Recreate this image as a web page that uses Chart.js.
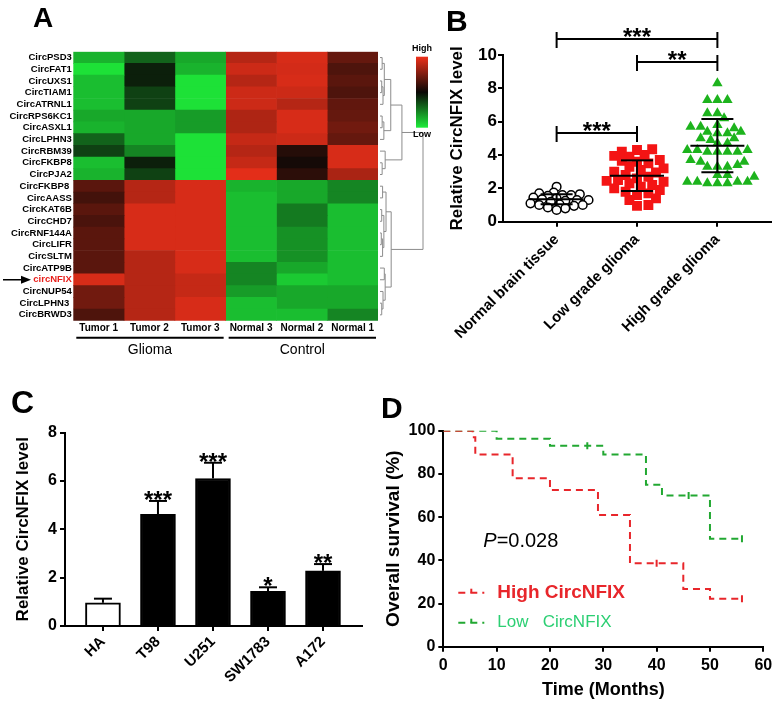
<!DOCTYPE html>
<html>
<head>
<meta charset="utf-8">
<script src="https://cdn.jsdelivr.net/npm/chart.js@4.4.1/dist/chart.umd.min.js"></script>
<style>
  html, body { margin: 0; padding: 0; background: #fff; }
  #page { position: relative; width: 778px; height: 702px; overflow: hidden; font-family: 'Liberation Sans', Arial, sans-serif; }
  canvas { position: absolute; }
  .tag { position: absolute; font-weight: bold; line-height: 1; color: #000; }
</style>
</head>
<body>
<div id="page">
  <canvas id="heatChart" width="445" height="360" style="left:0px;top:0px"></canvas>
  <canvas id="groupChart" width="388" height="360" style="left:390px;top:0px"></canvas>
  <canvas id="cellChart" width="390" height="342" style="left:0px;top:360px"></canvas>
  <canvas id="survChart" width="398" height="342" style="left:380px;top:360px"></canvas>
  <div class="tag" style="left:33px;top:4px;font-size:28px">A</div>
  <div class="tag" style="left:446px;top:6px;font-size:30px">B</div>
  <div class="tag" style="left:11px;top:386px;font-size:32px">C</div>
  <div class="tag" style="left:381px;top:393px;font-size:30px">D</div>
</div>
<script>
const FONT = "'Liberation Sans', Arial, sans-serif";
Chart.defaults.font.family = FONT;
Chart.defaults.color = '#000';

// ---- A: heatmap ----
const heatRows = ['CircPSD3', 'CircFAT1', 'CircUXS1', 'CircTIAM1', 'CircATRNL1', 'CircRPS6KC1', 'CircASXL1',
  'CircLPHN3', 'CircRBM39', 'CircFKBP8', 'CircPJA2', 'CircFKBP8 ', 'CircAASS', 'CircKAT6B', 'CircCHD7',
  'CircRNF144A', 'CircLIFR', 'CircSLTM', 'CircATP9B', 'circNFIX', 'CircNUP54', 'CircLPHN3 ', 'CircBRWD3'];
const heatCols = ['Tumor 1', 'Tumor 2', 'Tumor 3', 'Normal 3', 'Normal 2', 'Normal 1'];
// -1 = low (green), 0 = black, 1 = high (red)
const tumor1 = [-0.75, -0.95, -0.8, -0.8, -0.8, -0.7, -0.75, -0.4, -0.25, -0.8, -0.75, 0.35, 0.25, 0.35, 0.28, 0.35, 0.35, 0.35, 0.35, 0.9, 0.45, 0.45, 0.3];
const tumor2 = [-0.4, -0.1, -0.1, -0.25, -0.25, -0.7, -0.7, -0.7, -0.55, -0.1, -0.25, 0.75, 0.75, 0.9, 0.9, 0.9, 0.9, 0.75, 0.75, 0.75, 0.75, 0.75, 0.75];
const tumor3 = [-0.7, -0.75, -0.95, -0.95, -0.95, -0.65, -0.65, -0.95, -0.95, -0.95, -0.95, 0.9, 0.9, 0.9, 0.9, 0.9, 0.9, 0.9, 0.9, 0.82, 0.82, 0.9, 0.9];
const normal3 = [0.75, 0.85, 0.75, 0.85, 0.85, 0.72, 0.72, 0.82, 0.75, 0.82, 0.95, -0.75, -0.8, -0.8, -0.8, -0.8, -0.8, -0.8, -0.55, -0.55, -0.65, -0.8, -0.8];
const normal2 = [0.9, 0.88, 0.9, 0.85, 0.75, 0.9, 0.9, 0.85, 0.12, 0.05, 0.15, -0.7, -0.7, -0.5, -0.5, -0.6, -0.6, -0.6, -0.7, -0.85, -0.7, -0.7, -0.8];
const normal1 = [0.4, 0.3, 0.35, 0.3, 0.38, 0.4, 0.45, 0.4, 0.9, 0.9, 0.7, -0.55, -0.55, -0.8, -0.8, -0.8, -0.8, -0.8, -0.8, -0.8, -0.7, -0.7, -0.55];
const heatColumns = [tumor1, tumor2, tumor3, normal3, normal2, normal1];
const groupLabels = ['Glioma', 'Control'];
const groupSpans = [[0, 3], [3, 6]];
const markedRow = 19;
// [child, child, height]; leaves are row indexes
const dendroTree = [
  [[[[0, 1, 0.05], [[2, 3, 0.04], 4, 0.07], 0.1], [[5, 6, 0.05], 7, 0.09], 0.25], [8, [9, 10, 0.05], 0.12], 0.51],
  [[[11, 12, 0.06], [[13, 14, 0.04], [[15, 16, 0.03], 17, 0.06], 0.09], 0.14], [[18, 19, 0.1], [20, [21, 22, 0.04], 0.07], 0.12], 0.26],
  1
];

// ---- B: groups ----
const groupNames = ['Normal brain tissue', 'Low grade glioma', 'High grade glioma'];
const normalTissue = [2.1, 1.75, 1.7, 1.65, 1.6, 1.6, 1.55, 1.45, 1.4, 1.35, 1.3, 1.3, 1.25, 1.2, 1.1, 1.05, 1.0, 1.0, 0.95, 0.85, 0.8, 0.7];
const lowGrade = [4.35, 4.3, 4.2, 4.0, 3.95, 3.9, 3.7, 3.65, 3.6, 3.5, 3.3, 3.2, 3.1, 3.0, 2.95, 2.8, 2.7, 2.6, 2.5, 2.45, 2.4, 2.3, 2.2, 2.1, 2.0, 1.9, 1.8, 1.7, 1.6, 1.4, 1.3, 1.0, 0.95];
const highGrade = [8.3, 7.3, 7.3, 7.3, 6.5, 6.5, 6.2, 5.8, 5.7, 5.7, 5.6, 5.4, 5.4, 5.3, 5.3, 5.0, 5.0, 4.9, 4.7, 4.7,
  4.3, 4.3, 4.2, 4.2, 4.2, 4.2, 4.3, 3.7, 3.6, 3.6, 3.4, 3.3, 3.3, 3.3, 2.8, 2.8, 2.7, 2.4, 2.4, 2.3, 2.3, 2.3, 2.4, 2.4];
const groupMean = [1.35, 2.76, 4.56];
const groupSD = [0.3, 0.92, 1.6];
const sigPairs = [[0, 2], [1, 2], [0, 1]];
const sigLevel = [10.96, 9.58, 5.32];
const sigStars = ['***', '**', '***'];

// ---- C: cell lines ----
const cellLines = ['HA', 'T98', 'U251', 'SW1783', 'A172'];
const cellLevel = [0.96, 4.62, 6.1, 1.43, 2.28];
const cellErr = [0.17, 0.55, 0.65, 0.17, 0.28];
const cellStars = ['', '***', '***', '*', '**'];

// ---- D: survival ----
const survGroups = ['High CircNFIX', 'Low   CircNFIX'];
const highTime = [0, 5.5, 6, 13, 20, 29, 35, 45, 50, 56];
const highSurv = [100, 97, 89, 78, 72.5, 61, 38.6, 26.7, 22.2, 22.2];
const lowTime = [0, 10, 20, 30, 38, 41, 50, 56];
const lowSurv = [100, 96.3, 93, 89, 75, 70, 50, 50];
const highCensorTime = [40, 56];
const highCensorSurv = [38.6, 22.2];
const lowCensorTime = [27, 46, 56];
const lowCensorSurv = [93, 70, 50];
const pValue = '0.028';

const RED = '#e8262b', GREEN = '#22a832';

function heatColor(v) {
  const lo = [10, 8, 6];
  const hi = v >= 0 ? [238, 48, 26] : [30, 236, 58];
  const a = Math.abs(v);
  const c = lo.map((l, k) => Math.round(l + (hi[k] - l) * a));
  return `rgb(${c[0]},${c[1]},${c[2]})`;
}

// simple beeswarm: offsets in x units so markers do not pile up
function swarm(values, size, pxX, pxY) {
  const placed = [];
  const off = values.map(() => 0);
  const order = values.map((v, i) => i).sort((a, b) => values[a] - values[b]);
  order.forEach(i => {
    const py = values[i] * pxY;
    for (let k = 0; k < 60; k++) {
      const cand = (k % 2 ? 1 : -1) * Math.ceil(k / 2) * size * 0.45;
      if (placed.every(p => (p.x - cand) ** 2 + (p.y - py) ** 2 >= size * size)) {
        placed.push({ x: cand, y: py });
        off[i] = cand / pxX;
        break;
      }
    }
  });
  return off;
}

function axisStyle(size) {
  return {
    grid: { display: true, drawOnChartArea: false, tickLength: 5, color: '#000', lineWidth: 2 },
    border: { display: true, color: '#000', width: 2 },
    ticks: { color: '#000', font: { size: size, weight: 'bold' } }
  };
}

function line(ctx, x1, y1, x2, y2) {
  ctx.beginPath(); ctx.moveTo(x1, y1); ctx.lineTo(x2, y2); ctx.stroke();
}

// ===== Panel A =====
const heatExtras = {
  id: 'heatExtras',
  afterDraw(chart) {
    const { ctx, chartArea: area, scales: { x, y } } = chart;
    ctx.save();
    // dendrogram
    ctx.strokeStyle = '#8c8c8c';
    ctx.lineWidth = 1;
    const dx0 = area.right + 2, dw = 43;
    const walk = node => {
      if (typeof node === 'number') return { pos: y.getPixelForValue(node), h: 0 };
      const a = walk(node[0]), b = walk(node[1]);
      const hx = dx0 + node[2] * dw;
      ctx.beginPath();
      ctx.moveTo(dx0 + a.h * dw, a.pos);
      ctx.lineTo(hx, a.pos);
      ctx.lineTo(hx, b.pos);
      ctx.lineTo(dx0 + b.h * dw, b.pos);
      ctx.stroke();
      return { pos: (a.pos + b.pos) / 2, h: node[2] };
    };
    walk(dendroTree);

    // colour key
    const kx = area.right + 38, ky1 = area.top + 5, ky2 = area.top + 76;
    const g = ctx.createLinearGradient(0, ky1, 0, ky2);
    g.addColorStop(0, heatColor(1));
    g.addColorStop(0.5, heatColor(0));
    g.addColorStop(1, heatColor(-1));
    ctx.fillStyle = g;
    ctx.fillRect(kx, ky1, 12, ky2 - ky1);
    ctx.fillStyle = '#000';
    ctx.font = 'bold 9px ' + FONT;
    ctx.textAlign = 'center';
    ctx.textBaseline = 'middle';
    ctx.fillText('High', kx + 6, area.top - 3);
    ctx.fillText('Low', kx + 6, ky2 + 7);

    // group underlines
    ctx.strokeStyle = '#000';
    ctx.lineWidth = 2;
    ctx.font = '14px ' + FONT;
    groupSpans.forEach((s, i) => {
      const x1 = x.getPixelForValue(s[0]) + 3, x2 = x.getPixelForValue(s[1]) - 2;
      line(ctx, x1, area.bottom + 17, x2, area.bottom + 17);
      ctx.fillText(groupLabels[i], (x1 + x2) / 2, area.bottom + 29);
    });

    // arrow to the marked row
    const ay = y.getPixelForValue(markedRow);
    ctx.lineWidth = 1.5;
    line(ctx, 3, ay, 23, ay);
    ctx.beginPath();
    ctx.moveTo(31, ay); ctx.lineTo(21, ay - 4); ctx.lineTo(21, ay + 4); ctx.closePath();
    ctx.fill();
    ctx.restore();
  }
};

new Chart(document.getElementById('heatChart'), {
  type: 'bar',
  data: {
    labels: heatRows,
    datasets: heatColumns.map((col, i) => ({
      label: heatCols[i],
      data: col.map(() => 1),
      backgroundColor: col.map(heatColor),
      borderWidth: 0,
      barPercentage: 1,
      categoryPercentage: 1
    }))
  },
  options: {
    indexAxis: 'y',
    responsive: false,
    animation: false,
    layout: { padding: { top: 51.7, right: 67, left: 0, bottom: 0 } },
    plugins: { legend: { display: false }, tooltip: { enabled: false } },
    scales: {
      x: {
        type: 'linear', stacked: true, min: 0, max: 6,
        grid: { display: false, drawTicks: false },
        border: { display: false },
        afterBuildTicks: s => { s.ticks = heatCols.map((c, i) => ({ value: i + 0.5 })); },
        ticks: { callback: v => heatCols[Math.floor(v)], autoSkip: false, maxRotation: 0, padding: 2,
          font: { size: 10, weight: 'bold' }, color: '#000' },
        afterFit: s => { s.height = 360 - 320.7; }
      },
      y: {
        stacked: true,
        grid: { display: false, drawTicks: false },
        border: { display: false },
        ticks: { autoSkip: false, padding: 1.5,
          font: { size: 9.5, weight: 'bold' },
          color: c => (c.index === markedRow ? '#e8201c' : '#000') },
        afterFit: s => { s.width = 73.3; }
      }
    }
  },
  plugins: [heatExtras]
});

// ===== Panel B =====
const offN = swarm(normalTissue, 6.5, 81, 16.67);
const offL = swarm(lowGrade, 8.5, 81, 16.67);
const offH = swarm(highGrade, 7.5, 81, 16.67);

const groupExtras = {
  id: 'groupExtras',
  afterDatasetsDraw(chart) {
    const { ctx, scales: { x, y } } = chart;
    ctx.save();
    ctx.strokeStyle = '#000';
    ctx.fillStyle = '#000';
    ctx.lineWidth = 2;
    groupMean.forEach((m, i) => {
      const cx = x.getPixelForValue(i);
      const ym = y.getPixelForValue(m);
      const yt = y.getPixelForValue(m + groupSD[i]);
      const yb = y.getPixelForValue(m - groupSD[i]);
      line(ctx, cx - 27, ym, cx + 27, ym);
      line(ctx, cx, yt, cx, yb);
      line(ctx, cx - 16, yt, cx + 16, yt);
      line(ctx, cx - 16, yb, cx + 16, yb);
    });
    ctx.font = 'bold 24px ' + FONT;
    ctx.textAlign = 'center';
    ctx.textBaseline = 'alphabetic';
    sigPairs.forEach((p, i) => {
      const x1 = x.getPixelForValue(p[0]), x2 = x.getPixelForValue(p[1]);
      const yy = y.getPixelForValue(sigLevel[i]);
      line(ctx, x1, yy, x2, yy);
      line(ctx, x1, yy - 7, x1, yy + 9);
      line(ctx, x2, yy - 7, x2, yy + 9);
      ctx.fillText(sigStars[i], (x1 + x2) / 2, yy + 6);
    });
    ctx.restore();
  }
};

const bAxis = axisStyle(17);
const bxAxis = axisStyle(15);
new Chart(document.getElementById('groupChart'), {
  type: 'scatter',
  data: {
    datasets: [
      { label: groupNames[0], data: normalTissue.map((v, i) => ({ x: offN[i], y: v })),
        pointStyle: 'circle', pointRadius: 4.3, backgroundColor: '#fff', borderColor: '#000', borderWidth: 1.5 },
      { label: groupNames[1], data: lowGrade.map((v, i) => ({ x: 1 + offL[i], y: v })),
        pointStyle: 'rect', pointRadius: 7, backgroundColor: '#f41414', borderWidth: 0 },
      { label: groupNames[2], data: highGrade.map((v, i) => ({ x: 2 + offH[i], y: v })),
        pointStyle: 'triangle', pointRadius: 6, backgroundColor: '#1db31d', borderWidth: 0 }
    ]
  },
  options: {
    responsive: false,
    animation: false,
    layout: { padding: { top: 55, right: 5, left: 0, bottom: 0 } },
    plugins: { legend: { display: false }, tooltip: { enabled: false } },
    scales: {
      x: {
        type: 'linear', min: -0.667, max: 2.667,
        grid: bxAxis.grid, border: bxAxis.border,
        afterBuildTicks: s => { s.ticks = groupNames.map((n, i) => ({ value: i })); },
        ticks: { ...bxAxis.ticks, callback: v => groupNames[v], autoSkip: false, minRotation: 45, maxRotation: 45, padding: 4 },
        afterFit: s => { s.height = 360 - 221.7; }
      },
      y: {
        min: 0, max: 10,
        grid: bAxis.grid, border: bAxis.border,
        ticks: { ...bAxis.ticks, stepSize: 2, padding: 1 },
        title: { display: true, text: 'Relative CircNFIX level', font: { size: 17, weight: 'bold' }, padding: { top: 56.8, bottom: 0 } },
        afterFit: s => { s.width = 113; }
      }
    }
  },
  plugins: [groupExtras]
});

// ===== Panel C =====
const cellExtras = {
  id: 'cellExtras',
  afterDatasetsDraw(chart) {
    const { ctx, scales: { y } } = chart;
    const meta = chart.getDatasetMeta(0);
    ctx.save();
    ctx.strokeStyle = '#000';
    ctx.fillStyle = '#000';
    ctx.lineWidth = 2;
    ctx.font = 'bold 24px ' + FONT;
    ctx.textAlign = 'center';
    ctx.textBaseline = 'alphabetic';
    meta.data.forEach((bar, i) => {
      const top = y.getPixelForValue(cellLevel[i] + cellErr[i]);
      line(ctx, bar.x, bar.y, bar.x, top);
      line(ctx, bar.x - 9, top, bar.x + 9, top);
      if (cellStars[i]) ctx.fillText(cellStars[i], bar.x, top + 7);
    });
    ctx.restore();
  }
};

const cAxis = axisStyle(16);
const cxAxis = axisStyle(15);
new Chart(document.getElementById('cellChart'), {
  type: 'bar',
  data: {
    datasets: [{
      data: cellLevel.map((v, i) => ({ x: i, y: v })),
      backgroundColor: cellLines.map((n, i) => (i === 0 ? '#fff' : '#000')),
      borderColor: '#000',
      borderWidth: 2,
      barThickness: 35
    }]
  },
  options: {
    responsive: false,
    animation: false,
    layout: { padding: { top: 72.5, right: 28, left: 0, bottom: 0 } },
    plugins: { legend: { display: false }, tooltip: { enabled: false } },
    scales: {
      x: {
        type: 'linear', min: -0.69, max: 4.709, offset: false,
        grid: { ...cxAxis.grid, offset: false }, border: cxAxis.border,
        afterBuildTicks: s => { s.ticks = cellLines.map((n, i) => ({ value: i })); },
        ticks: { ...cxAxis.ticks, callback: v => cellLines[v], autoSkip: false, minRotation: 45, maxRotation: 45, padding: 2 },
        afterFit: s => { s.height = 342 - 266; }
      },
      y: {
        min: 0, max: 8,
        grid: cAxis.grid, border: cAxis.border,
        ticks: { ...cAxis.ticks, stepSize: 2, padding: 3 },
        title: { display: true, text: 'Relative CircNFIX level', font: { size: 17, weight: 'bold' }, padding: { top: 13.3, bottom: 0 } },
        afterFit: s => { s.width = 65; }
      }
    }
  },
  plugins: [cellExtras]
});

// ===== Panel D =====
const survExtras = {
  id: 'survExtras',
  afterDraw(chart) {
    const { ctx, chartArea: a } = chart;
    ctx.save();
    const rows = [
      { text: survGroups[0], color: RED, font: 'bold 19px ' + FONT, dy: 162 },
      { text: survGroups[1], color: '#2ccf73', font: '17px ' + FONT, dy: 192 }
    ];
    rows.forEach((r, i) => {
      const yy = a.top + r.dy;
      ctx.strokeStyle = i === 0 ? RED : GREEN;
      ctx.lineWidth = 2;
      ctx.setLineDash([7, 5]);
      line(ctx, a.left + 15, yy, a.left + 41, yy);
      ctx.setLineDash([]);
      line(ctx, a.left + 28, yy, a.left + 28, yy - 4);
      ctx.fillStyle = r.color;
      ctx.font = r.font;
      ctx.textAlign = 'left';
      ctx.textBaseline = 'middle';
      ctx.fillText(r.text, a.left + 54, yy);
    });
    ctx.fillStyle = '#000';
    ctx.font = 'italic 20px ' + FONT;
    const px = a.left + 40, py = a.top + 111;
    ctx.fillText('P', px, py);
    const w = ctx.measureText('P').width;
    ctx.font = '20px ' + FONT;
    ctx.fillText('=' + pValue, px + w, py);
    ctx.restore();
  }
};

const dAxis = axisStyle(16);
new Chart(document.getElementById('survChart'), {
  type: 'scatter',
  data: {
    datasets: [
      { label: survGroups[0], data: highTime.map((t, i) => ({ x: t, y: highSurv[i] })), showLine: true, stepped: 'before',
        borderColor: RED, borderWidth: 2, borderDash: [7, 5], pointRadius: 0 },
      { label: survGroups[1], data: lowTime.map((t, i) => ({ x: t, y: lowSurv[i] })), showLine: true, stepped: 'before',
        borderColor: GREEN, borderWidth: 2, borderDash: [7, 5], pointRadius: 0 },
      { data: highCensorTime.map((t, i) => ({ x: t, y: highCensorSurv[i] })), pointStyle: 'line', rotation: 90,
        pointRadius: 3.5, borderColor: RED, borderWidth: 2 },
      { data: lowCensorTime.map((t, i) => ({ x: t, y: lowCensorSurv[i] })), pointStyle: 'line', rotation: 90,
        pointRadius: 3.5, borderColor: GREEN, borderWidth: 2 }
    ]
  },
  options: {
    responsive: false,
    animation: false,
    layout: { padding: { top: 70.7, right: 14.7, left: 0, bottom: 0 } },
    plugins: { legend: { display: false }, tooltip: { enabled: false } },
    scales: {
      x: {
        type: 'linear', min: 0, max: 60,
        grid: dAxis.grid, border: dAxis.border,
        ticks: { ...dAxis.ticks, stepSize: 10, padding: 4, maxRotation: 0 },
        title: { display: true, text: 'Time (Months)', font: { size: 18, weight: 'bold' }, padding: { top: 0, bottom: 1 } },
        afterFit: s => { s.height = 342 - 286.7; }
      },
      y: {
        min: 0, max: 100,
        grid: dAxis.grid, border: dAxis.border,
        ticks: { ...dAxis.ticks, stepSize: 20, padding: 3 },
        title: { display: true, text: 'Overall survival (%)', font: { size: 19, weight: 'bold' }, padding: { top: 1.9, bottom: 0 } },
        afterFit: s => { s.width = 63.3; }
      }
    }
  },
  plugins: [survExtras]
});
</script>
</body>
</html>
